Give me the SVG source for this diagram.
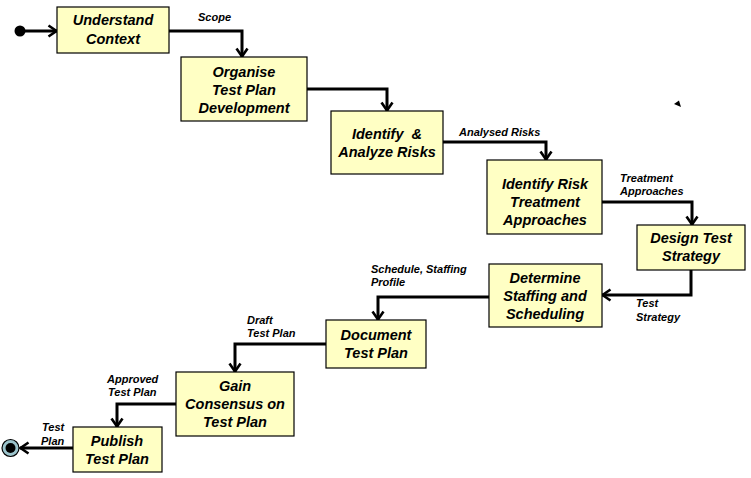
<svg xmlns="http://www.w3.org/2000/svg" width="751" height="478" viewBox="0 0 751 478">
<style>
.box{fill:#FFFFC4;stroke:#000;stroke-width:1.2}
.t{font-family:"Liberation Sans",Arial,sans-serif;font-size:14.5px;font-weight:bold;font-style:italic;fill:#000;text-anchor:middle}
.l{font-family:"Liberation Sans",Arial,sans-serif;font-size:11px;font-weight:bold;font-style:italic;fill:#000}
.c{fill:none;stroke:#000;stroke-width:3;marker-end:url(#ah)}
</style>
<defs>
<marker id="ah" viewBox="0 0 12 14" refX="10.5" refY="7" markerWidth="12" markerHeight="14" markerUnits="userSpaceOnUse" orient="auto">
<path d="M2,1.5 L10,7 L2,12.5" fill="none" stroke="#000" stroke-width="2.6"/>
</marker>
</defs>
<rect width="751" height="478" fill="#fff"/>
<g id="connectors">
<circle cx="20" cy="31" r="5.5" fill="#000"/>
<path class="c" d="M22,31 H57"/>
<path class="c" d="M169,31 H242 V57"/>
<path class="c" d="M307,89 H387 V111"/>
<path class="c" d="M443,142 H546 V160"/>
<path class="c" d="M602,202 H692 V225"/>
<path class="c" d="M691,270 V295 H602"/>
<path class="c" d="M489,297 H378 V320"/>
<path class="c" d="M326,344 H235 V372"/>
<path class="c" d="M176,404 H117 V427"/>
<path class="c" d="M73,448 H20"/>
<circle cx="10.5" cy="448" r="8.5" fill="#9cc4cc" stroke="#000" stroke-width="1.2"/>
<circle cx="10.5" cy="448" r="5" fill="#000"/>
<polygon points="674,104 679,100.5 681,107" fill="#000"/>
<text class="l" x="198" y="21">Scope</text>
<text class="l" x="459" y="136">Analysed Risks</text>
<text class="l" x="620" y="182">Treatment</text>
<text class="l" x="620" y="195">Approaches</text>
<text class="l" x="636" y="307">Test</text>
<text class="l" x="636" y="321">Strategy</text>
<text class="l" x="371" y="273">Schedule, Staffing</text>
<text class="l" x="371" y="286">Profile</text>
<text class="l" x="247" y="324">Draft</text>
<text class="l" x="247" y="337">Test Plan</text>
<text class="l" x="107" y="383">Approved</text>
<text class="l" x="108" y="396">Test Plan</text>
<text class="l" x="42" y="431">Test</text>
<text class="l" x="41" y="445">Plan</text>
</g>
<g id="n1"><rect class="box" x="57" y="7" width="112" height="46"/>
<text class="t" x="113" y="25">Understand</text><text class="t" x="113" y="44">Context</text></g>
<g id="n2"><rect class="box" x="181" y="57" width="126" height="64"/>
<text class="t" x="244" y="77">Organise</text><text class="t" x="244" y="95">Test Plan</text><text class="t" x="244" y="113">Development</text></g>
<g id="n3"><rect class="box" x="331" y="111" width="112" height="63"/>
<text class="t" x="387" y="139" xml:space="preserve">Identify  &amp;</text><text class="t" x="387" y="157">Analyze Risks</text></g>
<g id="n4"><rect class="box" x="487" y="160" width="115" height="74"/>
<text class="t" x="545" y="189">Identify Risk</text><text class="t" x="545" y="207">Treatment</text><text class="t" x="545" y="225">Approaches</text></g>
<g id="n5"><rect class="box" x="637" y="225" width="108" height="45"/>
<text class="t" x="691" y="243">Design Test</text><text class="t" x="691" y="261">Strategy</text></g>
<g id="n6"><rect class="box" x="489" y="264" width="113" height="63"/>
<text class="t" x="545" y="283">Determine</text><text class="t" x="545" y="301">Staffing and</text><text class="t" x="545" y="319">Scheduling</text></g>
<g id="n7"><rect class="box" x="326" y="320" width="100" height="48"/>
<text class="t" x="376" y="340">Document</text><text class="t" x="376" y="358">Test Plan</text></g>
<g id="n8"><rect class="box" x="176" y="372" width="118" height="64"/>
<text class="t" x="235" y="391">Gain</text><text class="t" x="235" y="409">Consensus on</text><text class="t" x="235" y="427">Test Plan</text></g>
<g id="n9"><rect class="box" x="73" y="427" width="89" height="45"/>
<text class="t" x="117" y="446">Publish</text><text class="t" x="117" y="464">Test Plan</text></g>
</svg>
